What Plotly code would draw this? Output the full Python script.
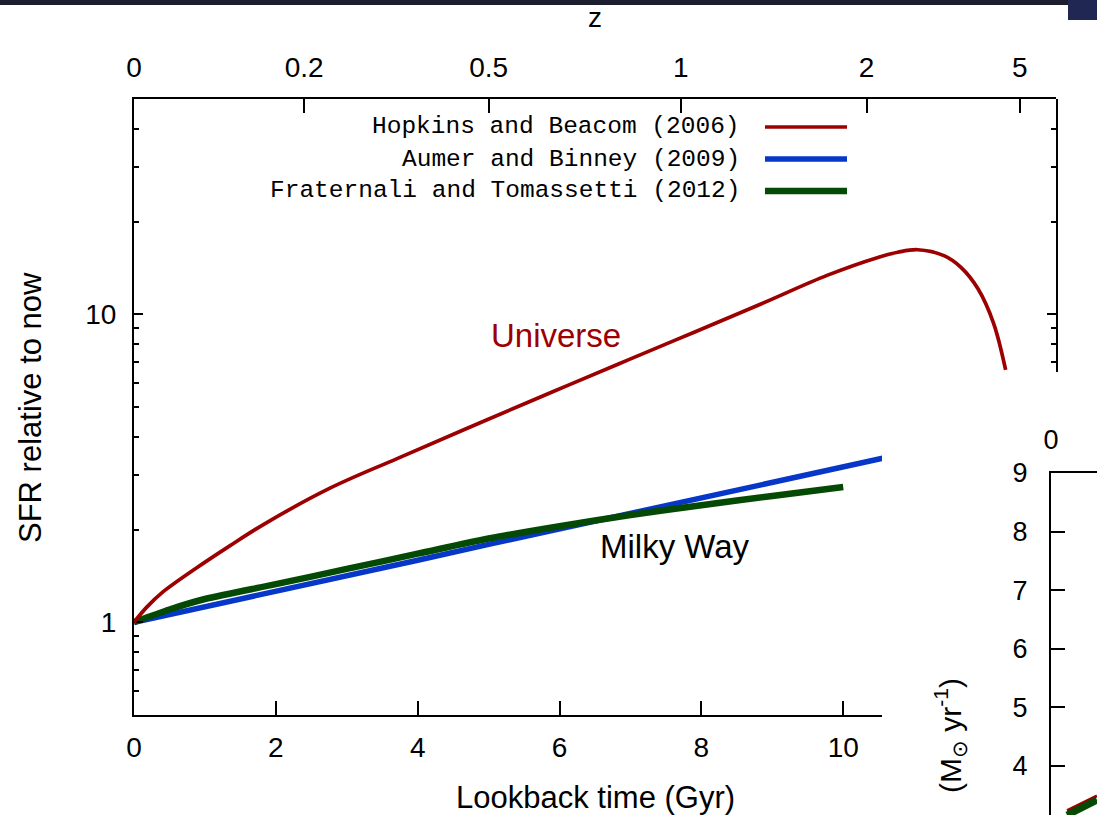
import math
import plotly.graph_objects as go

W, H = 1097, 815

# ---------------- data ----------------
# Hopkins and Beacom (2006): cosmic SFR relative to now vs lookback time (Gyr)
red_t = [0.0, 0.18, 0.4, 0.88, 1.35, 1.83, 2.77, 3.71, 4.65, 5.59, 6.15, 6.96, 7.89,
         8.84, 9.78, 10.49, 10.77, 11.05, 11.42, 11.66, 11.90, 12.12, 12.29]
red_sfr = [1.00, 1.12, 1.25, 1.50, 1.77, 2.08, 2.73, 3.40, 4.22, 5.22, 5.92, 7.10, 8.73,
           10.8, 13.4, 15.3, 15.9, 16.2, 15.5, 14.2, 12.1, 9.35, 6.6]

# Aumer and Binney (2009)
blue_t = [0, 1, 2, 3, 4, 5, 6, 7, 8, 9, 10, 10.56]
blue_sfr = [1.00, 1.12, 1.26, 1.41, 1.59, 1.79, 2.01, 2.25, 2.53, 2.85, 3.19, 3.41]

# Fraternali and Tomassetti (2012)
green_t = [0, 0.5, 1, 2, 3, 4, 5, 6, 7, 8, 9, 10]
green_sfr = [1.00, 1.10, 1.19, 1.33, 1.49, 1.67, 1.87, 2.05, 2.23, 2.40, 2.57, 2.75]

# top axis: redshift labels at their lookback times (Gyr)
z_labels = ["0", "0.2", "0.5", "1", "2", "5"]
z_lookback = [0, 2.40, 5.00, 7.71, 10.33, 12.49]

x_ticks = [0, 2, 4, 6, 8, 10]
y_major = [1, 10]
y_minor = [0.6, 0.7, 0.8, 0.9, 2, 3, 4, 5, 6, 7, 8, 9, 20, 30, 40]
right_major = [10]
right_minor = [7, 8, 9, 20, 30, 40]

# fragment of the overlapping second chart (bottom right)
inset_ticks = [4, 5, 6, 7, 8, 9]
inset_x = [0.35, 0.7, 1.0]
inset_green = [3.16, 3.30, 3.42]
inset_red = [3.24, 3.37, 3.49]

# ---------------- styling / geometry ----------------
RED = "#9c0000"
BLUE = "#0637c8"
GREEN = "#044a04"
SANS = "Liberation Sans, Arial, Helvetica, sans-serif"
MONO = "Liberation Mono, Courier New, monospace"
TICK = dict(family=SANS, size=28, color="black")
TITLE = dict(family=SANS, size=31, color="black")


def px(x):
    return x / W


def py(y):
    return 1 - y / H


T_MAX = 13.0
XL, XR, XCUT = 134, 1056, 882
YT, YB, YCUT = 99, 715, 372
LOG_LO, LOG_HI = math.log10(0.5), math.log10(50)
T_BOTTOM = T_MAX * (XCUT - XL) / (XR - XL)
LOG_CUT = LOG_LO + (LOG_HI - LOG_LO) * (YB - YCUT) / (YB - YT)

INSET_TOP = 473
INSET_UNIT = 58.6
inset_range = [9 - (H - INSET_TOP) / INSET_UNIT, 9]

fig = go.Figure()
fig.add_trace(go.Scatter(x=red_t, y=red_sfr, xaxis="x2", yaxis="y", mode="lines",
                         line=dict(color=RED, width=3.7, shape="spline", smoothing=1.0),
                         name="Hopkins and Beacom (2006)"))
fig.add_trace(go.Scatter(x=blue_t, y=blue_sfr, xaxis="x", yaxis="y", mode="lines",
                         line=dict(color=BLUE, width=5.5), name="Aumer and Binney (2009)"))
fig.add_trace(go.Scatter(x=green_t, y=green_sfr, xaxis="x", yaxis="y3", mode="lines",
                         line=dict(color=GREEN, width=6.5, shape="spline", smoothing=0.8),
                         name="Fraternali and Tomassetti (2012)"))
# empty carriers so that the right-hand frame axes are drawn
fig.add_trace(go.Scatter(x=[None], y=[None], xaxis="x2", yaxis="y5", mode="lines",
                         hoverinfo="skip"))
fig.add_trace(go.Scatter(x=[None], y=[None], xaxis="x2", yaxis="y6", mode="lines",
                         hoverinfo="skip"))
fig.add_trace(go.Scatter(x=inset_x, y=inset_red, xaxis="x4", yaxis="y4", mode="lines",
                         line=dict(color=RED, width=3)))
fig.add_trace(go.Scatter(x=inset_x, y=inset_green, xaxis="x4", yaxis="y4", mode="lines",
                         line=dict(color=GREEN, width=7)))

common = dict(showgrid=False, zeroline=False, linecolor="black", linewidth=2,
              tickcolor="black", tickwidth=1.5, automargin=False)

layout = dict(
    template="none",
    width=W, height=H, autosize=False,
    margin=dict(l=0, r=0, t=0, b=0, pad=0),
    paper_bgcolor="white", plot_bgcolor="rgba(0,0,0,0)",
    showlegend=False,
    xaxis=dict(domain=[px(XL), px(XCUT)], range=[0, T_BOTTOM], anchor="y", side="bottom",
               showline=True, ticks="inside", ticklen=14, tickmode="array",
               tickvals=x_ticks, tickfont=TICK, ticklabelstandoff=6, **common),
    xaxis2=dict(domain=[px(XL), px(XR)], range=[0, T_MAX], anchor="y", side="top",
                showline=True, ticks="inside", ticklen=14, tickmode="array",
                tickvals=z_lookback, ticktext=z_labels, tickfont=TICK,
                ticklabelstandoff=9, **common),
    yaxis=dict(domain=[py(YB), py(YT)], type="log", range=[LOG_LO, LOG_HI], anchor="x",
               side="left", showline=True, ticks="inside", ticklen=9, tickmode="array",
               tickvals=y_major, ticktext=["1", "10"], tickfont=TICK,
               ticklabelstandoff=10, **common),
    yaxis3=dict(overlaying="y", type="log", range=[LOG_LO, LOG_HI], anchor="x", side="left",
                showline=False, ticks="inside", ticklen=5, tickmode="array",
                tickvals=y_minor, showticklabels=False, **common),
    yaxis5=dict(domain=[py(YCUT), py(YT)], type="log", range=[LOG_CUT, LOG_HI], anchor="x2",
                side="right", showline=True, ticks="inside", ticklen=9, tickmode="array",
                tickvals=right_major, showticklabels=False, **common),
    yaxis6=dict(overlaying="y5", type="log", range=[LOG_CUT, LOG_HI], anchor="x2",
                side="right", showline=False, ticks="inside", ticklen=5, tickmode="array",
                tickvals=right_minor, showticklabels=False, **common),
    xaxis4=dict(domain=[px(1051), 1], range=[0, 1], anchor="y4", side="top",
                showline=True, ticks="", tickmode="array", tickvals=[0], ticktext=["0"],
                tickfont=dict(family=SANS, size=27, color="black"), ticklabelstandoff=11,
                **common),
    yaxis4=dict(domain=[0, py(INSET_TOP)], range=inset_range, anchor="x4", side="left",
                showline=True, ticks="inside", ticklen=14, tickmode="array",
                tickvals=inset_ticks, tickfont=dict(family=SANS, size=27, color="black"),
                ticklabelstandoff=16, **common),
)
fig.update_layout(**layout)

ann = []
ann.append(dict(text="z", x=px(595), y=py(18), font=TICK))
ann.append(dict(text="Lookback time (Gyr)", x=px(595), y=py(797), font=TITLE))
ann.append(dict(text="SFR relative to now", x=px(30), y=py(408), textangle=-90, font=TITLE))
ann.append(dict(text="Universe", x=px(556), y=py(335),
                font=dict(family=SANS, size=33, color=RED)))
ann.append(dict(text="Milky Way", x=px(675), y=py(546),
                font=dict(family=SANS, size=33, color="black")))
legend_rows = [("Hopkins and Beacom (2006)", 127, RED, 3.7),
               ("Aumer and Binney (2009)", 159, BLUE, 5.5),
               ("Fraternali and Tomassetti (2012)", 191, GREEN, 6.5)]
shapes = []
for label, yy, col, wd in legend_rows:
    ann.append(dict(text=label, x=px(742), y=py(yy), xanchor="right",
                    font=dict(family=MONO, size=24.5, color="black")))
    shapes.append(dict(type="line", xref="paper", yref="paper", x0=px(765), x1=px(847),
                       y0=py(yy), y1=py(yy), line=dict(color=col, width=wd)))
ann.append(dict(text="(M<sub>⊙</sub> yr<sup>-1</sup>)", x=px(950), y=py(736),
                textangle=-90, font=dict(family=SANS, size=30, color="black")))
for a in ann:
    a.setdefault("xref", "paper")
    a.setdefault("yref", "paper")
    a.setdefault("xanchor", "center")
    a.setdefault("yanchor", "middle")
    a.setdefault("showarrow", False)

# slide chrome at the top
shapes.append(dict(type="rect", xref="paper", yref="paper", x0=0, x1=1, y0=py(5), y1=1,
                   fillcolor="#1c1e30", line=dict(width=0), layer="above"))
shapes.append(dict(type="rect", xref="paper", yref="paper", x0=px(1068), x1=1, y0=py(20), y1=1,
                   fillcolor="#1f2752", line=dict(width=0), layer="above"))

fig.update_layout(annotations=ann, shapes=shapes)
fig.write_html("out.html")
